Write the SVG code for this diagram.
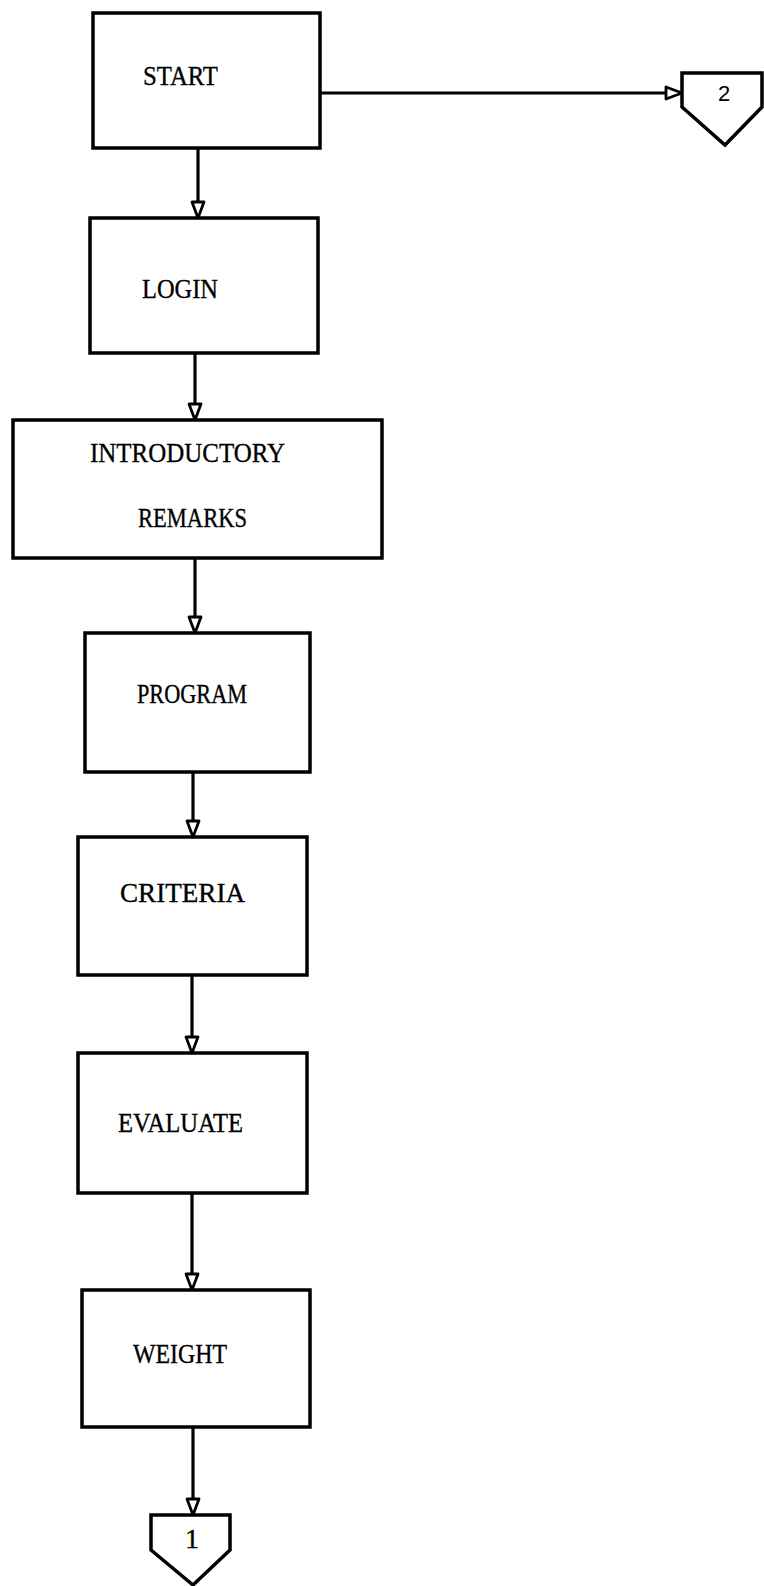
<svg xmlns="http://www.w3.org/2000/svg" width="764" height="1586" viewBox="0 0 764 1586">
  <style>
    .box { fill: #fff; stroke: #000; stroke-width: 3.5; stroke-linejoin: miter; }
    .lbl { font-family: "Liberation Serif", "Times New Roman", serif; font-size: 28px; fill: #000; stroke: #000; stroke-width: 0.35; }
    .num { font-family: "Liberation Sans", Arial, sans-serif; font-size: 22px; fill: #000; text-anchor: middle; }
    .wire { fill: none; stroke: #000; stroke-width: 3.2; marker-end: url(#tri); }
  </style>
  <defs>
    <marker id="tri" markerUnits="userSpaceOnUse" markerWidth="22" markerHeight="18" refX="18" refY="7" orient="auto" overflow="visible">
      <path d="M2,1 L18,7 L2,13 Z" fill="#fff" stroke="#000" stroke-width="2.8" stroke-linejoin="round"/>
    </marker>
  </defs>

  <rect width="764" height="1586" fill="#fff"/>

  <!-- flow connectors -->
  <g id="connectors">
    <path class="wire" d="M320,93 L682,93"/>
    <path class="wire" d="M198,148 L198,218"/>
    <path class="wire" d="M195,353 L195,420"/>
    <path class="wire" d="M195,558 L195,633"/>
    <path class="wire" d="M193,772 L193,837"/>
    <path class="wire" d="M192,975 L192,1053"/>
    <path class="wire" d="M192,1193 L192,1290"/>
    <path class="wire" d="M193,1427 L193,1515"/>
  </g>

  <g id="start">
    <rect class="box" x="93" y="13" width="227" height="135"/>
    <text class="lbl" x="143" y="85" textLength="75" lengthAdjust="spacingAndGlyphs">START</text>
  </g>

  <g id="login">
    <rect class="box" x="90" y="218" width="228" height="135"/>
    <text class="lbl" x="142" y="298" textLength="76" lengthAdjust="spacingAndGlyphs">LOGIN</text>
  </g>

  <g id="intro">
    <rect class="box" x="13" y="420" width="369" height="138"/>
    <text class="lbl" x="90" y="462" textLength="195" lengthAdjust="spacingAndGlyphs">INTRODUCTORY</text>
    <text class="lbl" x="138" y="527" textLength="109" lengthAdjust="spacingAndGlyphs">REMARKS</text>
  </g>

  <g id="program">
    <rect class="box" x="85" y="633" width="225" height="139"/>
    <text class="lbl" x="137" y="703" textLength="110" lengthAdjust="spacingAndGlyphs">PROGRAM</text>
  </g>

  <g id="criteria">
    <rect class="box" x="78" y="837" width="229" height="138"/>
    <text class="lbl" x="120" y="902" textLength="125" lengthAdjust="spacingAndGlyphs">CRITERIA</text>
  </g>

  <g id="evaluate">
    <rect class="box" x="78" y="1053" width="229" height="140"/>
    <text class="lbl" x="118" y="1132" textLength="125" lengthAdjust="spacingAndGlyphs">EVALUATE</text>
  </g>

  <g id="weight">
    <rect class="box" x="82" y="1290" width="228" height="137"/>
    <text class="lbl" x="133" y="1363" textLength="94" lengthAdjust="spacingAndGlyphs">WEIGHT</text>
  </g>

  <!-- off-page connectors -->
  <g id="offpage-2">
    <path class="box" d="M682,73 L762,73 L762,107 L725,145 L682,107 Z"/>
    <text class="num" x="724" y="101">2</text>
  </g>

  <g id="offpage-1">
    <path class="box" d="M151,1515 L230,1515 L230,1550 L193,1585 L151,1550 Z"/>
    <text class="lbl" x="192" y="1548" text-anchor="middle">1</text>
  </g>
</svg>
